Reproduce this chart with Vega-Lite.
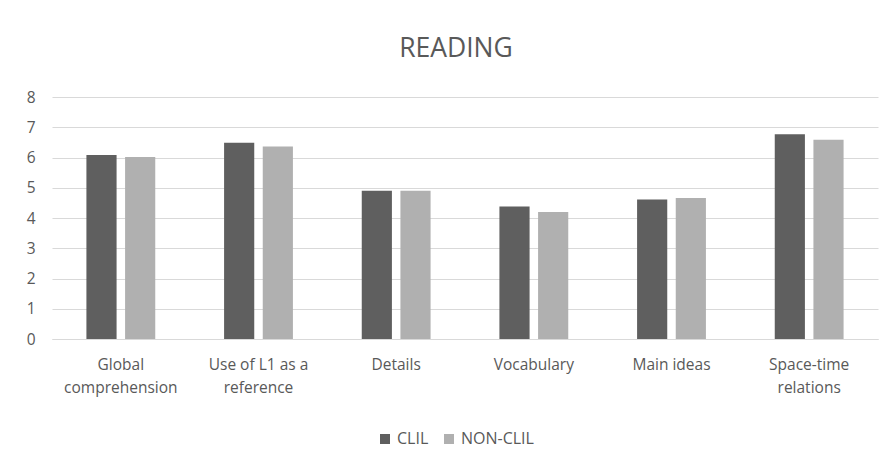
{
  "$schema": "https://vega.github.io/schema/vega-lite/v6.json",
  "autosize": {"type": "none"},
  "width": 826,
  "height": 242,
  "padding": {"left": 52, "top": 97, "right": 12, "bottom": 122},
  "background": "white",
  "title": {
    "text": "READING",
    "anchor": "middle",
    "frame": "group",
    "dx": -9,
    "offset": 28,
    "font": "Open Sans",
    "fontSize": 26.5,
    "fontWeight": "normal",
    "color": "#595959"
  },
  "data": {
    "values": [
      {"skill": "Global|comprehension", "group": "CLIL", "score": 6.08},
      {"skill": "Global|comprehension", "group": "NON-CLIL", "score": 6.02},
      {"skill": "Use of L1 as a|reference", "group": "CLIL", "score": 6.49},
      {"skill": "Use of L1 as a|reference", "group": "NON-CLIL", "score": 6.36},
      {"skill": "Details", "group": "CLIL", "score": 4.9},
      {"skill": "Details", "group": "NON-CLIL", "score": 4.9},
      {"skill": "Vocabulary", "group": "CLIL", "score": 4.38},
      {"skill": "Vocabulary", "group": "NON-CLIL", "score": 4.2},
      {"skill": "Main ideas", "group": "CLIL", "score": 4.61},
      {"skill": "Main ideas", "group": "NON-CLIL", "score": 4.66},
      {"skill": "Space-time|relations", "group": "CLIL", "score": 6.77},
      {"skill": "Space-time|relations", "group": "NON-CLIL", "score": 6.59}
    ]
  },
  "mark": {"type": "bar"},
  "encoding": {
    "x": {
      "field": "skill",
      "type": "nominal",
      "sort": null,
      "scale": {"paddingInner": 0.5, "paddingOuter": 0.25},
      "axis": {
        "title": null,
        "labelAngle": 0,
        "labelExpr": "split(datum.value, '|')",
        "labelFont": "Open Sans",
        "labelFontSize": 15.5,
        "labelColor": "#595959",
        "labelLineHeight": 23,
        "labelPadding": 18,
        "labelLimit": 200,
        "ticks": false,
        "domainColor": "#d9d9d9",
        "domainWidth": 1,
        "grid": false
      }
    },
    "xOffset": {
      "field": "group",
      "type": "nominal",
      "scale": {"paddingInner": 0.22}
    },
    "y": {
      "field": "score",
      "type": "quantitative",
      "scale": {"domain": [0, 8], "nice": false},
      "axis": {
        "title": null,
        "values": [0, 1, 2, 3, 4, 5, 6, 7, 8],
        "labelFont": "Open Sans",
        "labelFontSize": 15.5,
        "labelColor": "#595959",
        "labelPadding": 17,
        "ticks": false,
        "domain": false,
        "gridColor": "#d9d9d9",
        "gridWidth": 1
      }
    },
    "color": {
      "field": "group",
      "type": "nominal",
      "scale": {"domain": ["CLIL", "NON-CLIL"], "range": ["#5f5f5f", "#b0b0b0"]},
      "legend": {
        "title": null,
        "orient": "none",
        "legendX": 325,
        "legendY": 334,
        "padding": 0,
        "direction": "horizontal",
        "symbolType": "square",
        "symbolSize": 100,
        "symbolStrokeWidth": 0,
        "labelFont": "Open Sans",
        "labelFontSize": 16,
        "labelColor": "#595959",
        "labelOffset": 4,
        "columnPadding": 12
      }
    }
  },
  "config": {"view": {"stroke": null}}
}
